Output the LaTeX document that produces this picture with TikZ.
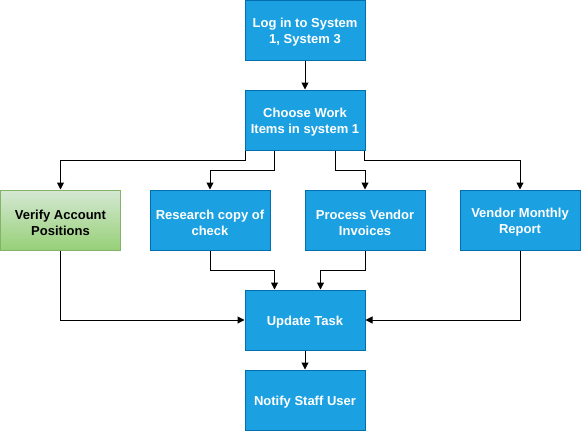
\documentclass[tikz,border=0pt]{standalone}
\usepackage{fontspec}
\setmainfont{Liberation Sans}
\usetikzlibrary{arrows.meta,calc}
\definecolor{bfill}{HTML}{1BA1E2}
\definecolor{bline}{HTML}{006EAF}
\definecolor{gtop}{HTML}{D5E8D4}
\definecolor{gbot}{HTML}{97D077}
\definecolor{gline}{HTML}{82B366}
\tikzset{
  box/.style={draw=bline, fill=bfill, line width=1pt, minimum width=120pt, minimum height=60pt, inner sep=0pt},
  gbox/.style={box, draw=gline, top color=gtop, bottom color=gbot},
  txt/.style={align=center, text=white, inner sep=0pt, font=\fontsize{13}{16}\selectfont\bfseries},
  gtxt/.style={txt, text=black},
  arr/.style={line width=1pt, -{Triangle[length=7pt,width=7pt]}}
}
\begin{document}
\begin{tikzpicture}[x=1pt,y=-1pt]
\useasboundingbox (0,0) rectangle (581,431);
\node[box] (login) at (305,30) {};
\node[box] (choose) at (305,120) {};
\node[gbox] (verify) at (60.5,220) {};
\node[box] (research) at (210,220) {};
\node[box] (process) at (365,220) {};
\node[box] (vendor) at (520,220) {};
\node[box] (update) at (305,320) {};
\node[box] (notify) at (305,400) {};
\node[txt] (tlogin) at ([yshift=-2.5pt]login.center) {Log in to System\\1, System 3};
\node[txt] (tchoose) at ([yshift=-2.5pt]choose.center) {Choose Work\\Items in system 1};
\node[gtxt] (tverify) at ([yshift=-2.5pt]verify.center) {Verify Account\\Positions};
\node[txt] (tresearch) at ([yshift=-2.5pt]research.center) {Research copy of\\check};
\node[txt] (tprocess) at ([yshift=-2.5pt]process.center) {Process Vendor\\Invoices};
\node[txt] (tvendor) at ([yshift=-2.5pt]vendor.center) {Vendor Monthly\\Report};
\node[txt] (tupdate) at ([yshift=-2.5pt]update.center) {Update Task};
\node[txt] (tnotify) at ([yshift=-2.5pt]notify.center) {Notify Staff User};
\draw[arr] (login) -- (choose);
\draw[arr] ([xshift=1pt]choose.south west) -- ++(0,10) -| (verify.north);
\draw[arr] ([xshift=30pt]choose.south west) -- ++(0,20) -| (research.north);
\draw[arr] ([xshift=-30pt]choose.south east) -- ++(0,20) -| (process.north);
\draw[arr] ([xshift=-1pt]choose.south east) -- ++(0,10) -| (vendor.north);
\draw[arr] (verify.south) |- (update.west);
\draw[arr] (research.south) -- ++(0,20) -| ([xshift=30pt]update.north west);
\draw[arr] (process.south) -- ++(0,20) -| ([xshift=76pt]update.north west);
\draw[arr] (vendor.south) |- (update.east);
\draw[arr] (update) -- (notify);
\end{tikzpicture}
\end{document}
